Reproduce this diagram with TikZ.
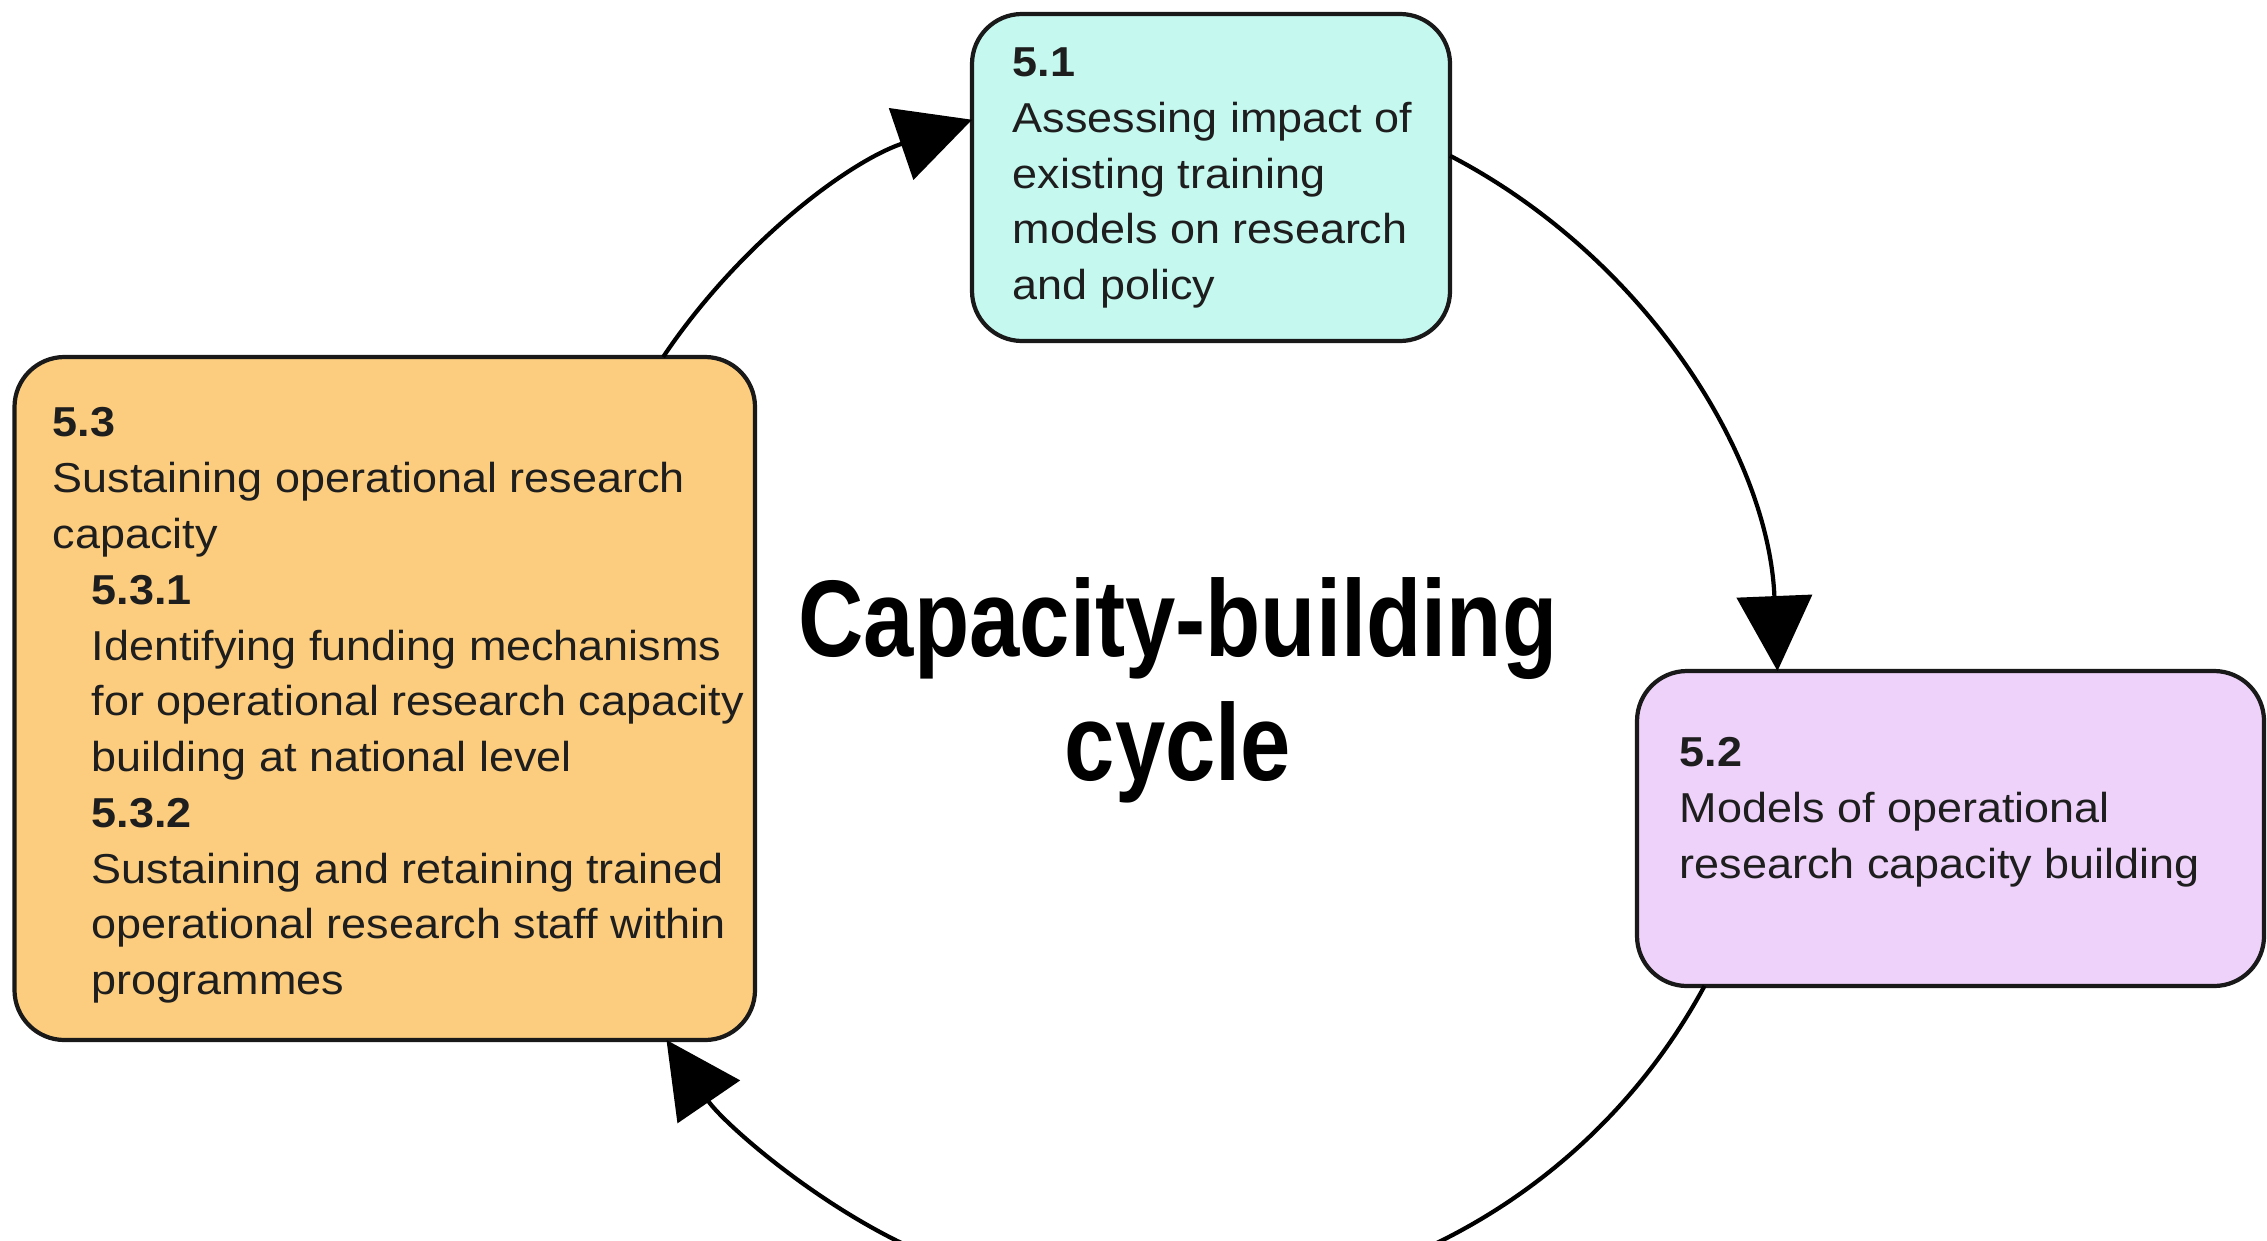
\documentclass[tikz,border=0pt]{standalone}
\usepackage{fontspec}
\setmainfont{Liberation Sans}[FakeStretch=1.075]
\newfontfamily\titlefont{Liberation Sans}[FakeStretch=0.83]
\usetikzlibrary{arrows.meta}
\definecolor{cyanfill}{RGB}{197,249,240}
\definecolor{orangefill}{RGB}{252,205,126}
\definecolor{lilacfill}{RGB}{238,210,250}
\definecolor{edgecol}{RGB}{25,25,25}
\definecolor{ink}{RGB}{30,30,30}
\tikzset{
  boxstyle/.style={draw=edgecol, line width=1.2pt, rounded corners=0.5cm, inner sep=0pt},
  txt/.style={anchor=north west, inner sep=0pt, align=left, text=ink,
    font=\fontsize{11.9pt}{15.87pt}\selectfont},
  cyc/.style={draw=black, line width=1.2pt, -{Triangle[length=0.75cm,width=0.75cm]}},
  titlestyle/.style={anchor=north, inner sep=0pt, align=center, text=black,
    font=\titlefont\bfseries\fontsize{31pt}{35.2pt}\selectfont}
}
\begin{document}
\begin{tikzpicture}
\clip (0,0) rectangle (22.67,12.4);
\fill[white] (0,0) rectangle (22.67,12.4);
% boxes
\node[boxstyle, fill=cyanfill, minimum width=4.78cm, minimum height=3.27cm] (b51) at (12.11,10.625) {};
\node[boxstyle, fill=lilacfill, minimum width=6.27cm, minimum height=3.15cm] (b52) at (19.505,4.115) {};
\node[boxstyle, fill=orangefill, minimum width=7.405cm, minimum height=6.83cm] (b53) at (3.8475,5.415) {};
% texts
\node[txt] (t51) at (10.12,11.93) {\textbf{5.1}\\Assessing impact of\\existing training\\models on research\\and policy};
\node[txt] (t52) at (16.79,5.03) {\textbf{5.2}\\Models of operational\\research capacity building};
\node[txt] (t53) at (0.52,8.33) {\textbf{5.3}\\Sustaining operational research\\capacity\\
\hspace*{0.39cm}\textbf{5.3.1}\\
\hspace*{0.39cm}Identifying funding mechanisms\\
\hspace*{0.39cm}for operational research capacity\\
\hspace*{0.39cm}building at national level\\
\hspace*{0.39cm}\textbf{5.3.2}\\
\hspace*{0.39cm}Sustaining and retaining trained\\
\hspace*{0.39cm}operational research staff within\\
\hspace*{0.39cm}programmes};
% title
\node[titlestyle] (title) at (11.78,6.63) {Capacity-building\\cycle};
% cycle arcs
\coordinate (ctr) at (11.69,5.44);
\draw[cyc] ([shift={(146.17:6.09)}]ctr) arc[start angle=146.17, end angle=108.87, radius=6.09];
\draw[cyc] ([shift={(62.52:6.09)}]ctr) arc[start angle=62.52, end angle=2.35, radius=6.09];
\draw[cyc] ([shift={(-28.43:6.09)}]ctr) arc[start angle=-28.43, end angle=-145.61, radius=6.09];
\end{tikzpicture}
\end{document}
